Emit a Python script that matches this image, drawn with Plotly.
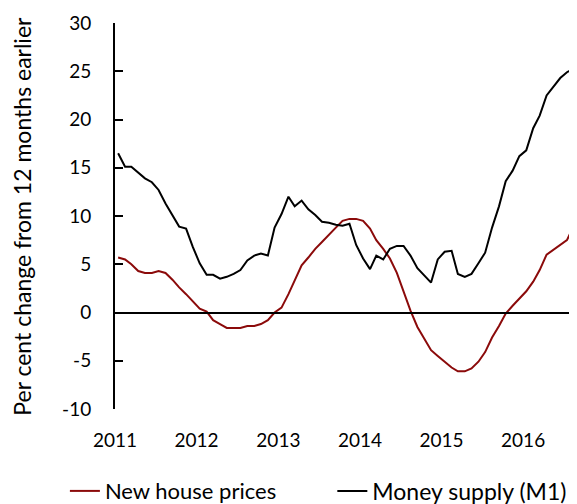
import pandas as pd
import plotly.graph_objects as go

months = pd.date_range("2011-01-01", periods=68, freq="MS") + pd.Timedelta(days=14)

house_prices = [
    5.7, 5.5, 5.0, 4.3, 4.1, 4.1, 4.3, 4.1, 3.4, 2.6, 1.9, 1.2,
    0.4, 0.1, -0.8, -1.2, -1.6, -1.6, -1.6, -1.4, -1.4, -1.2, -0.8, 0.0,
    0.5, 1.9, 3.3, 4.9, 5.7, 6.6, 7.3, 8.1, 8.8, 9.5, 9.7, 9.7,
    9.5, 8.7, 7.5, 6.6, 5.6, 4.1, 2.1, 0.2, -1.5, -2.7, -3.9, -4.5,
    -5.1, -5.7, -6.1, -6.1, -5.8, -5.1, -4.1, -2.6, -1.4, -0.1, 0.7, 1.4,
    2.2, 3.2, 4.4, 6.0, 6.5, 7.0, 7.5, 9.0,
]

money_supply = [
    16.5, 15.1, 15.1, 14.5, 13.9, 13.5, 12.7, 11.3, 10.0, 8.9, 8.7, 6.8,
    5.1, 3.9, 3.9, 3.5, 3.7, 4.0, 4.4, 5.4, 5.9, 6.1, 5.9, 8.8,
    10.2, 12.0, 11.0, 11.6, 10.7, 10.1, 9.4, 9.3, 9.1, 9.0, 9.2, 7.0,
    5.6, 4.5, 5.9, 5.5, 6.6, 6.9, 6.9, 5.9, 4.6, 3.9, 3.1, 5.5,
    6.3, 6.4, 4.0, 3.7, 4.0, 5.1, 6.2, 8.8, 11.0, 13.6, 14.7, 16.2,
    16.8, 19.1, 20.4, 22.5, 23.4, 24.3, 24.9, 25.3,
]

year_ticks = pd.date_range("2011-01-01", "2016-01-01", freq="YS")
year_labels = [str(d.year) for d in year_ticks]
y_ticks = [-10, -5, 0, 5, 10, 15, 20, 25, 30]
y_labels = [str(v) for v in y_ticks]  # plain hyphen, as in the original

font = "Lato, 'Open Sans', sans-serif"

fig = go.Figure()
fig.add_trace(go.Scatter(x=months, y=house_prices, mode="lines", name="New house prices",
                         line=dict(color="#8b0a0a", width=2), legend="legend"))
fig.add_trace(go.Scatter(x=months, y=money_supply, mode="lines", name="Money supply (M1)",
                         line=dict(color="#000000", width=2), legend="legend2"))
# empty trace so the zero-line axis gets drawn
fig.add_trace(go.Scatter(x=[], y=[], xaxis="x2", showlegend=False, hoverinfo="skip"))

legend_style = dict(orientation="h", xref="container", yref="container", y=0.026,
                    yanchor="middle", bgcolor="rgba(0,0,0,0)")

# page body has an 8px default margin, so the figure is sized 8px smaller each way
fig.update_layout(
    width=569, height=496,
    margin=dict(l=107, r=0, t=15, b=95),
    paper_bgcolor="white", plot_bgcolor="white",
    font=dict(family=font, size=19, color="#000000"),
    showlegend=True,
    legend=dict(x=0.100, xanchor="left", font=dict(size=22), **legend_style),
    legend2=dict(x=0.570, xanchor="left", font=dict(size=23), **legend_style),
    xaxis=dict(
        range=["2011-01-01", "2016-08-29"],
        tickvals=year_ticks, ticktext=year_labels,
        showline=False, ticks="", showgrid=False, zeroline=False,
        ticklabelstandoff=18, automargin=False,
    ),
    xaxis2=dict(
        overlaying="x", matches="x", anchor="free", position=0.25,
        tickvals=year_ticks, showticklabels=False,
        showline=True, linecolor="black", linewidth=2,
        ticks="outside", ticklen=7, tickwidth=2, tickcolor="black",
        showgrid=False, zeroline=False, automargin=False,
    ),
    yaxis=dict(
        range=[-10, 30], tickvals=y_ticks, ticktext=y_labels,
        showline=True, linecolor="black", linewidth=2,
        ticks="inside", ticklen=8, tickwidth=2, tickcolor="black",
        showgrid=False, zeroline=False, ticklabelstandoff=18, automargin=False,
    ),
    annotations=[dict(
        text="Per cent change from 12 months earlier", textangle=-90,
        xref="paper", yref="paper", x=-0.202, y=0.5, xanchor="center", yanchor="middle",
        showarrow=False, font=dict(size=23),
    )],
)

fig.write_html("out.html")
